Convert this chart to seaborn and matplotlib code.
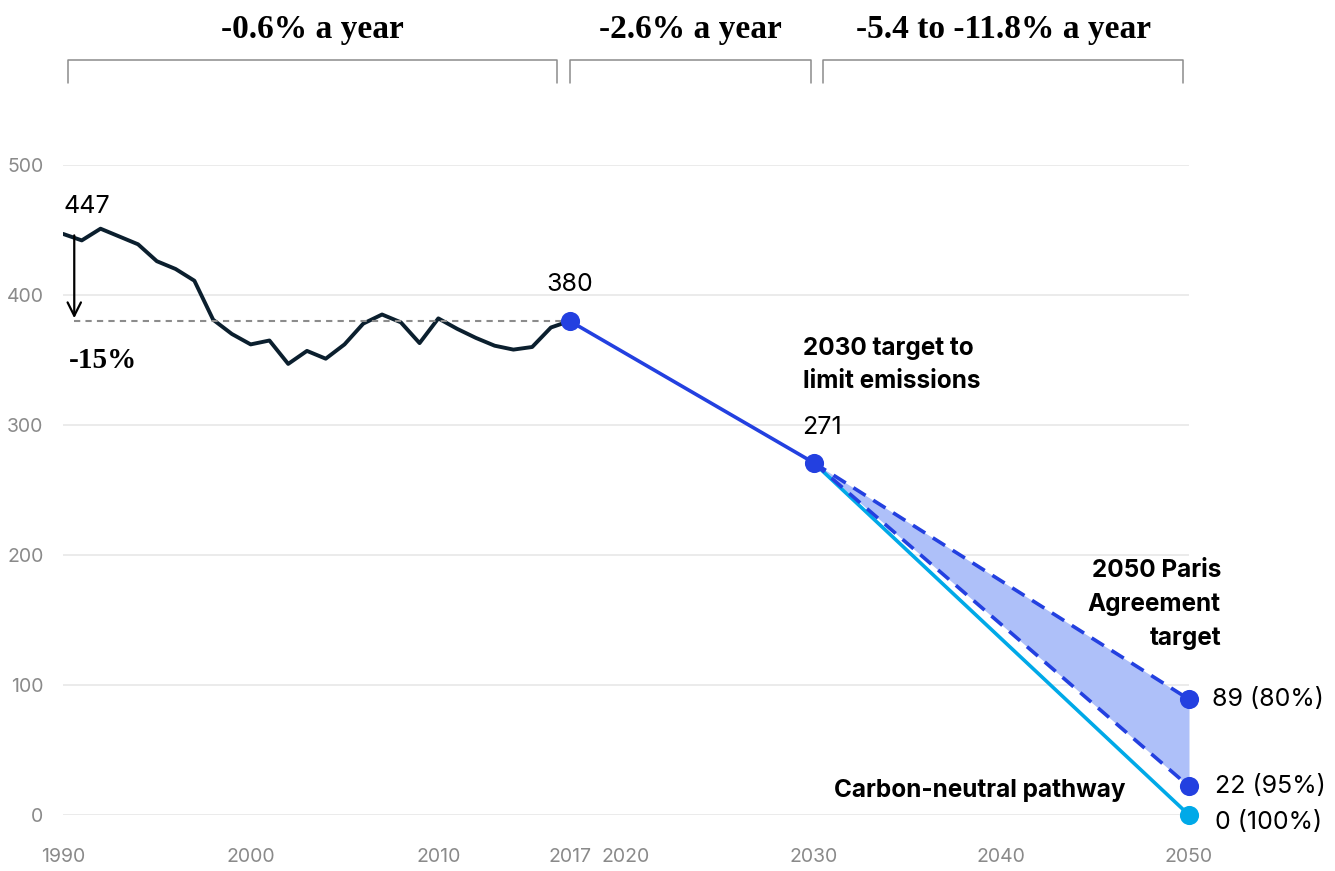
import numpy as np
import pandas as pd
import matplotlib
matplotlib.use("Agg")
import matplotlib.pyplot as plt
import seaborn as sns

# historic emissions (Mt CO2e)
hist_years = list(range(1990, 2018))
hist_vals = [447, 442, 451, 445, 439, 426, 420, 411, 381, 370,
             362, 365, 347, 357, 351, 362, 378, 385, 379, 363,
             382, 374, 367, 361, 358, 360, 375, 380]

# pathways
path_2030_years = [2017, 2030]
path_2030_vals = [380, 271]
paris_years = [2030, 2050]
paris_80 = [271, 89]
paris_95 = [271, 22]
neutral = [271, 0]

xticks = [1990, 2000, 2010, 2017, 2020, 2030, 2040, 2050]
yticks = [0, 100, 200, 300, 400, 500]

BLUE = "#2340e0"
DARK = "#0b1f2e"
CYAN = "#00a9e8"
FILL = "#aec0f9"
GREY = "#8c8c8c"

sns.set_theme(style="white")
plt.rcParams["font.family"] = ["Inter", "DejaVu Sans"]
plt.rcParams["text.color"] = "black"
SERIF = ["Liberation Serif", "DejaVu Serif"]

fig = plt.figure(figsize=(13.35, 8.71), dpi=100)
ax = fig.add_axes([63 / 1335, 56 / 871, 1126 / 1335, 650 / 871])

hist = pd.DataFrame({"year": hist_years, "value": hist_vals})
sns.lineplot(data=hist, x="year", y="value", color=DARK, lw=2.8, ax=ax)
ax.lines[-1].set_solid_joinstyle("round")

sns.lineplot(x=path_2030_years, y=path_2030_vals, color=BLUE, lw=2.6, ax=ax)
ax.fill_between(paris_years, paris_95, paris_80, color=FILL, lw=0, zorder=1)
sns.lineplot(x=paris_years, y=neutral, color=CYAN, lw=2.6, ax=ax)
sns.lineplot(x=paris_years, y=paris_80, color=BLUE, lw=2.6, ax=ax,
             linestyle=(0, (4, 2.5)))
sns.lineplot(x=paris_years, y=paris_95, color=BLUE, lw=2.6, ax=ax,
             linestyle=(0, (4, 2.5)))

# dots
dot_x = [2017, 2030, 2050, 2050]
dot_y = [380, 271, 89, 22]
ax.scatter(dot_x, dot_y, s=190, color=BLUE, zorder=5, clip_on=False, lw=0)
ax.scatter([2050], [0], s=190, color=CYAN, zorder=5, clip_on=False, lw=0)

# -15% reference
ax.plot([1990.6, 2017], [380, 380], ls=(0, (3, 2.5)), color=GREY, lw=1.5, zorder=2)
ax.annotate("", xy=(1990.6, 380), xytext=(1990.6, 448),
            arrowprops=dict(arrowstyle="->", color="black", lw=1.6,
                            mutation_scale=24))
ax.text(1990.3, 350, "-15%", fontsize=21, fontweight="bold", family=SERIF,
        ha="left", va="center")

# value labels
ax.text(1990.05, 468, "447", fontsize=18, ha="left", va="center")
ax.text(2017, 408, "380", fontsize=18, ha="center", va="center")
ax.text(2030.45, 298, "271", fontsize=18, ha="center", va="center")
ax.text(2051.2, 89, "89 (80%)", fontsize=18, ha="left", va="center")
ax.text(2051.4, 22, "22 (95%)", fontsize=18, ha="left", va="center")
ax.text(2051.4, -6, "0 (100%)", fontsize=18, ha="left", va="center")

ax.text(2029.45, 346, "2030 target to\nlimit emissions", fontsize=17.5,
        fontweight="bold", ha="left", va="center", linespacing=1.55)
ax.text(2051.7, 162, "2050 Paris\nAgreement\ntarget", fontsize=17.5,
        fontweight="bold", ha="right", va="center", linespacing=1.6)
ax.text(2046.6, 19, "Carbon-neutral pathway", fontsize=17.5,
        fontweight="bold", ha="right", va="center")

# top brackets
brackets = [(1990.27, 2016.3, "-0.6% a year"),
            (2017.0, 2029.85, "-2.6% a year"),
            (2030.5, 2049.7, "-5.4 to -11.8% a year")]
for x0, x1, label in brackets:
    ax.plot([x0, x0, x1, x1], [563, 581, 581, 563], color=GREY, lw=1.1,
            clip_on=False)
    ax.text((x0 + x1) / 2, 604, label, fontsize=24, fontweight="bold",
            family=SERIF, ha="center", va="center")

ax.set_xlim(1990, 2050)
ax.set_ylim(0, 500)
ax.set_xticks(xticks)
ax.set_yticks(yticks)
ax.set_xlabel("")
ax.set_ylabel("")
ax.grid(axis="y", color="#e8e8e8", lw=1.2)
ax.grid(axis="x", visible=False)
ax.set_axisbelow(True)
sns.despine(ax=ax, left=True, bottom=True)
ax.tick_params(axis="both", length=0, labelsize=14, colors="#8a8a8a")
ax.tick_params(axis="x", pad=24)
ax.tick_params(axis="y", pad=14)

fig.savefig("out.png", dpi=100)
